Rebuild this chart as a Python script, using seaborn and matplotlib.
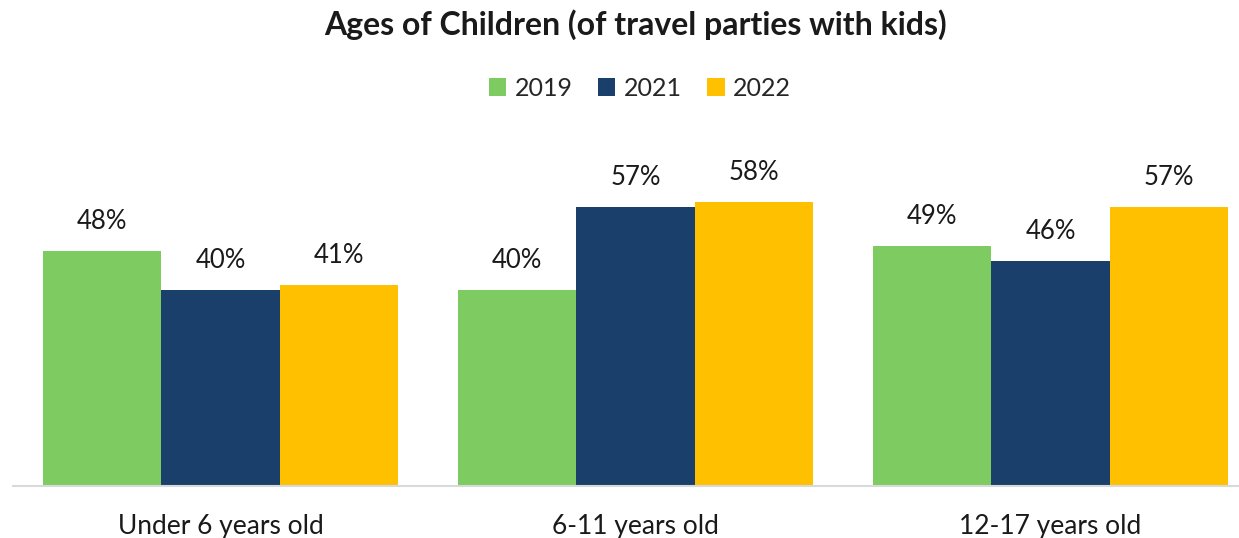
import numpy as np
import pandas as pd
import matplotlib
matplotlib.use("Agg")
import matplotlib.pyplot as plt
import seaborn as sns

# data
categories = ["Under 6 years old", "6-11 years old", "12-17 years old"]
years = ["2019", "2021", "2022"]
v2019 = [48, 40, 49]
v2021 = [40, 57, 46]
v2022 = [41, 58, 57]

colors = ["#7ECB62", "#1B3F6B", "#FFC000"]

df = pd.DataFrame({
    "cat": categories * 3,
    "year": [y for y in years for _ in categories],
    "val": v2019 + v2021 + v2022,
})

sns.set_theme(style="white")
plt.rcParams["font.family"] = ["Lato", "DejaVu Sans"]

fig = plt.figure(figsize=(12.39, 5.38), dpi=100)
ax = fig.add_axes([13 / 1239, 52 / 538, 1 - 13 / 1239, (486 - 143) / 538])

sns.barplot(data=df, x="cat", y="val", hue="year", palette=colors,
            width=0.855, gap=0, saturation=1, linewidth=0, ax=ax, legend=True)

ax.set_ylim(0, 70)
ax.set_xlim(-0.5, (1239 - 220.5) / 415)

for c in ax.containers:
    ax.bar_label(c, labels=[f"{int(v)}%" for v in c.datavalues],
                 padding=12, fontsize=18.5, color="#1a1a1a")

for s in ["top", "right", "left"]:
    ax.spines[s].set_visible(False)
ax.spines["bottom"].set_color("#D9D9D9")
ax.spines["bottom"].set_linewidth(1.5)
ax.set_yticks([])
ax.set_xlabel("")
ax.set_ylabel("")
ax.tick_params(axis="x", length=0, pad=20, labelsize=19, labelcolor="#1a1a1a")

ax.legend(loc="center", bbox_to_anchor=(640 / 1239, 1 - 88 / 538),
          bbox_transform=fig.transFigure, ncol=3, frameon=False,
          fontsize=18, handlelength=0.7, handleheight=0.7,
          handletextpad=0.35, columnspacing=1.0)

fig.text(635 / 1239, 1 - 25 / 538, "Ages of Children (of travel parties with kids)",
         ha="center", va="center", fontsize=23, fontweight="bold", color="#1a1a1a")

fig.savefig("out.png", dpi=100)
